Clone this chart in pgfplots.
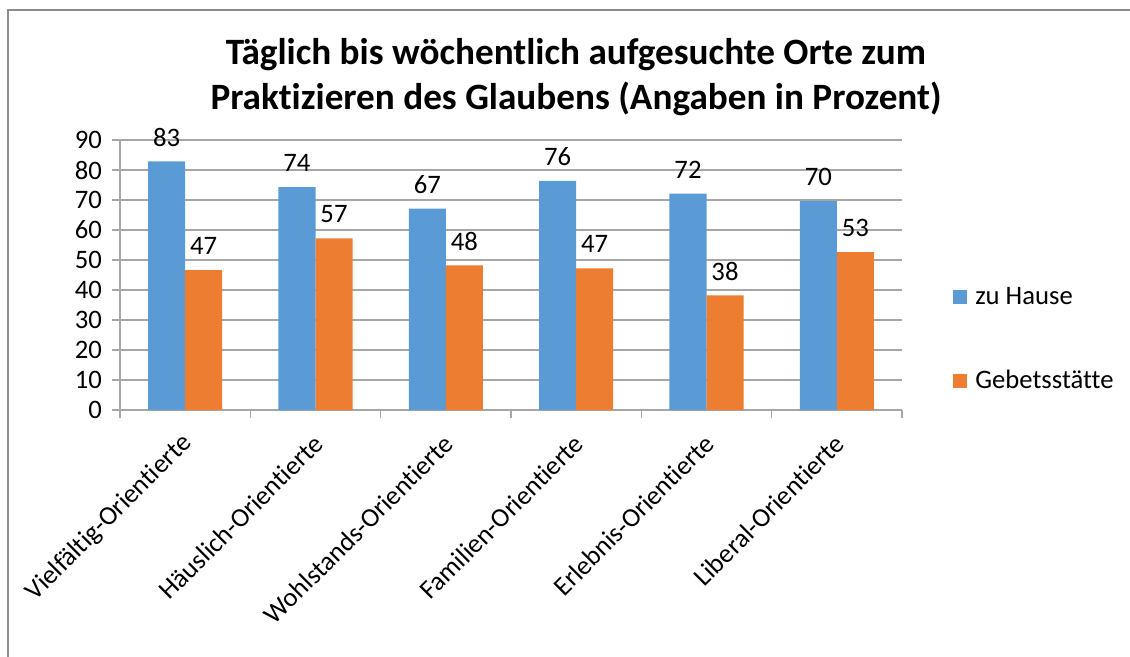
\documentclass[border=0pt]{standalone}
\usepackage{pgfplots}
\pgfplotsset{compat=1.18}
\usepackage{fontspec}
\setmainfont{Carlito}[Ligatures={NoCommon}]
\definecolor{cblue}{HTML}{5B9BD5}
\definecolor{corange}{HTML}{ED7D31}
\definecolor{cgrid}{HTML}{A6A6A6}
\definecolor{cborder}{HTML}{8C8C8C}
\newcommand\tfs{\fontsize{20}{24}\selectfont}
\newcommand\ttl{\fontsize{27.9}{32}\selectfont\bfseries}
\begin{document}
\begin{tikzpicture}
\useasboundingbox (0,0) rectangle (847.5pt,-492pt);
\begin{scope}[x=0.75pt,y=-0.75pt]
\draw[cborder, line width=1.1pt] (8,665) -- (8,10) -- (1135,10);
\node[font=\ttl, anchor=base, inner sep=0pt] at (576,65) {Täglich bis wöchentlich aufgesuchte Orte zum};
\node[font=\ttl, anchor=base, inner sep=0pt] at (576,110) {Praktizieren des Glaubens (Angaben in Prozent)};
\end{scope}
\begin{axis}[
  at={(90pt,-307.5pt)}, anchor=south west,
  scale only axis, width=586.5pt, height=202.5pt,
  clip=false,
  ybar, bar width=0.284,
  xmin=-0.5, xmax=5.5, ymin=0, ymax=90,
  ytick={0,10,...,90},
  xtick={0,...,5},
  xticklabels={Vielfältig-Orientierte,Häuslich-Orientierte,Wohlstands-Orientierte,Familien-Orientierte,Erlebnis-Orientierte,Liberal-Orientierte},
  minor xtick={-0.5,0.5,...,5.5},
  axis x line*=bottom, axis y line*=left,
  tick align=outside,
  major tick length=6pt, minor tick length=6pt,
  ymajorgrids, grid style={cgrid, line width=0.9pt},
  axis line style={cgrid, line width=0.9pt},
  major x tick style={draw=none},
  minor x tick style={cgrid, line width=0.9pt},
  ytick style={cgrid, line width=0.9pt},
  /pgf/number format/assume math mode=true,
  ticklabel style={font=\tfs},
  yticklabel style={anchor=east, xshift=-4pt},
  xticklabel style={xshift=4.5pt, yshift=-13.5pt, rotate=45, anchor=east},
  nodes near coords,
  point meta=explicit symbolic,
  every node near coord/.append style={font=\tfs, anchor=center, yshift=18pt, text=black},
  legend style={at={(1.0652,0.263)}, anchor=west, draw=none, fill=none, font=\tfs, row sep=44pt, inner sep=0pt, legend cell align=left, /tikz/every odd column/.append style={column sep=4pt}},
  legend image code/.code={\fill[#1] (0pt,-5.25pt) rectangle (10.5pt,5.25pt);},
]
\addplot[fill=cblue, draw=none, bar shift=-0.142] coordinates {
 (0,82.9)[83] (1,74.3)[74] (2,67.1)[67] (3,76.4)[76] (4,72.1)[72] (5,69.6)[70]};
\addplot[fill=corange, draw=none, bar shift=0.142] coordinates {
 (0,46.6)[47] (1,57.2)[57] (2,48.2)[48] (3,47.2)[47] (4,38.2)[38] (5,52.6)[53]};
\legend{zu Hause, Gebetsstätte}
\end{axis}
\end{tikzpicture}
\end{document}
